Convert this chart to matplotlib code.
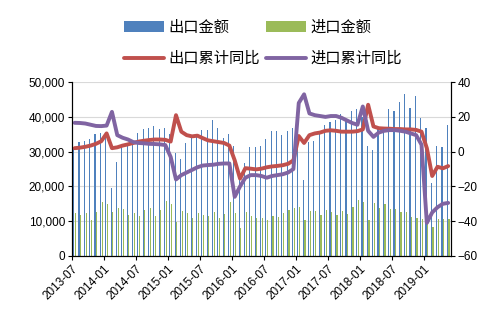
import numpy as np
import pandas as pd
import matplotlib
matplotlib.use("Agg")
import matplotlib.pyplot as plt

# months 2013-07 .. 2019-05
months = pd.period_range("2013-07", "2019-05", freq="M").strftime("%Y-%m").tolist()

# 出口金额
export_amt = [31.0, 32.7, 33.0, 33.6, 35.2, 35.5, 35.0, 19.6, 26.9, 31.4, 31.5, 32.0,
              35.4, 36.4, 36.7, 37.4, 36.4, 36.7, 35.0, 29.5, 28.0, 32.4, 34.3, 34.5,
              36.2, 36.2, 39.1, 36.9, 34.0, 35.2, 31.6, 22.0, 26.6, 31.4, 31.4, 31.6,
              33.5, 36.0, 35.8, 34.8, 36.0, 36.9, 36.0, 21.7, 32.8, 33.2, 35.0, 37.8,
              38.5, 39.0, 40.8, 39.0, 41.8, 42.3, 40.0, 31.6, 30.6, 36.9, 36.8, 42.4,
              41.7, 44.3, 46.5, 42.6, 46.0, 39.7, 36.7, 21.0, 31.5, 31.2, 37.6]
# 进口金额
import_amt = [12.3, 11.8, 12.3, 10.3, 12.7, 15.4, 15.0, 12.7, 13.7, 13.5, 11.8, 12.3,
              11.6, 13.2, 13.7, 11.4, 13.2, 15.8, 15.0, 9.9, 12.9, 12.3, 11.0, 12.3,
              11.8, 11.4, 12.6, 11.0, 12.0, 15.6, 12.3, 8.0, 12.7, 11.4, 11.0, 11.0,
              10.3, 11.4, 11.2, 12.3, 13.2, 13.7, 14.0, 10.3, 13.0, 12.8, 11.8, 13.2,
              12.6, 11.8, 12.8, 12.2, 14.2, 16.1, 15.6, 10.3, 15.3, 13.9, 14.8, 13.4,
              13.4, 12.6, 12.6, 11.2, 11.0, 10.5, 10.2, 8.3, 10.5, 10.5, 10.5]
# 出口累计同比
export_yoy = [2.0, 2.3, 2.8, 3.5, 4.5, 6.0, 10.5, 2.0, 2.5, 3.5, 4.2, 5.0,
              5.8, 6.3, 6.7, 7.0, 7.0, 6.8, 5.8, 21.0, 11.5, 9.5, 8.8, 9.2,
              7.8, 6.5, 6.0, 5.5, 5.0, 3.5, -5.0, -15.5, -9.5, -9.8, -10.2, -9.8,
              -9.0, -8.5, -8.2, -7.8, -7.0, -5.0, 9.0, 5.0, 9.5, 10.5, 11.0, 12.0,
              12.3, 12.0, 11.5, 11.5, 11.5, 11.8, 12.8, 27.0, 14.5, 13.5, 13.3, 13.2,
              13.0, 13.0, 12.8, 12.8, 12.5, 11.5, 2.0, -14.0, -8.7, -9.6, -8.3]
# 进口累计同比
import_yoy = [16.6, 16.5, 16.2, 15.5, 14.8, 14.7, 15.0, 22.9, 9.5, 8.0, 7.0, 5.5,
              5.0, 4.8, 4.5, 4.4, 4.2, 3.8, -3.0, -16.0, -13.5, -12.0, -10.5, -9.0,
              -8.0, -7.7, -7.5, -7.0, -6.8, -6.8, -26.0, -20.0, -15.0, -13.5, -13.5, -14.0,
              -15.0, -14.0, -13.5, -13.0, -12.0, -10.0, 28.0, 33.0, 22.0, 21.0, 20.5, 20.0,
              20.5, 20.5, 19.5, 18.0, 16.5, 15.5, 26.0, 12.0, 8.5, 11.0, 12.0, 12.4,
              12.4, 12.0, 11.5, 10.5, 9.5, 4.0, -41.0, -35.0, -32.0, -30.0, -29.5]

plt.rcParams['font.family'] = ['Liberation Sans', 'Noto Sans CJK SC', 'DejaVu Sans']

x = np.arange(len(months))
fig = plt.figure(figsize=(4.96, 3.26), dpi=100)
ax = fig.add_axes([0.145, 0.215, 0.764, 0.533])

b1 = ax.bar(x - 0.16, np.array(export_amt) * 1000, width=0.22, color="#4F81BD", label="出口金额", zorder=2)
b2 = ax.bar(x + 0.16, np.array(import_amt) * 1000, width=0.22, color="#9BBB59", label="进口金额", zorder=2)
ax.set_ylim(0, 50000)
ax.set_yticks(range(0, 50001, 10000))
ax.set_yticklabels([f"{v:,}" for v in range(0, 50001, 10000)], fontsize=8.5)
ax.grid(axis="y", color="#D9D9D9", lw=0.8, zorder=0)
ax.set_axisbelow(True)
ax.set_xlim(-0.5, len(months) - 0.5)
tick_idx = list(range(0, len(months), 6))
ax.set_xticks([i - 0.5 for i in tick_idx])
ax.set_xticklabels([months[i] for i in tick_idx], rotation=45, ha="right",
                   rotation_mode="anchor", fontsize=8.5)
ax.tick_params(length=3, width=0.8, pad=2)
ax.spines["top"].set_visible(False)
for s in ["left", "bottom", "right"]:
    ax.spines[s].set_linewidth(0.8)

ax2 = ax.twinx()
l1, = ax2.plot(x, export_yoy, color="#C0504D", lw=2.8, label="出口累计同比", solid_capstyle="round")
l2, = ax2.plot(x, import_yoy, color="#8064A2", lw=2.8, label="进口累计同比", solid_capstyle="round")
ax2.set_ylim(-60, 40)
ax2.set_yticks(range(-60, 41, 20))
ax2.tick_params(labelsize=8.5, length=3, width=0.8, pad=2)
ax2.spines["top"].set_visible(False)
ax2.spines["right"].set_linewidth(0.8)

# legend is filled column by column
fig.legend([b1, l1, b2, l2], ["出口金额", "出口累计同比", "进口金额", "进口累计同比"],
           ncol=2, loc="center", bbox_to_anchor=(0.53, 0.868),
           frameon=False, prop={"family": ["Noto Sans CJK SC", "DejaVu Sans"], "size": 11},
           handlelength=2.6, handletextpad=0.3, columnspacing=0.4, labelspacing=0.9)

fig.savefig("out.png", dpi=100)
